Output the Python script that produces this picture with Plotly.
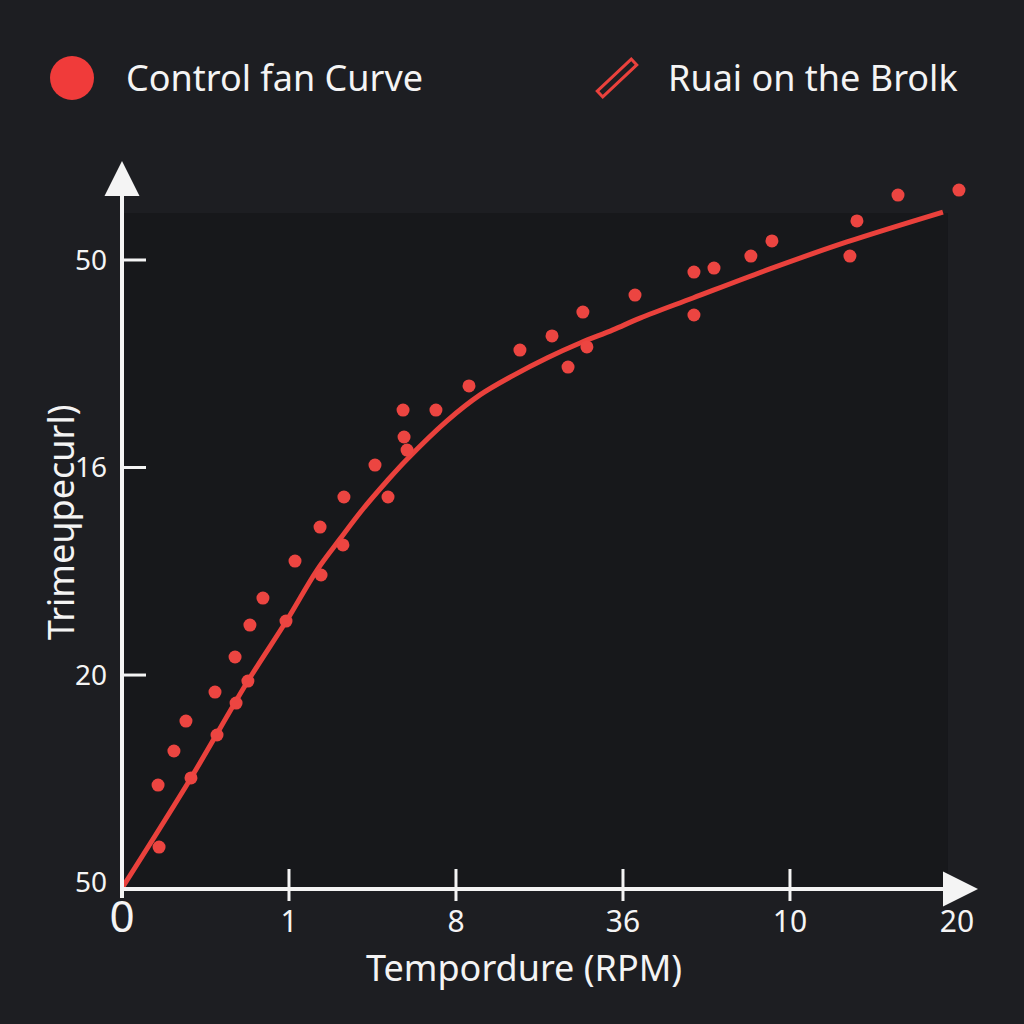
import math
import plotly.graph_objects as go

# ---- data ----
x_ticks = [0, 1, 2, 3, 4, 5]
x_tick_labels = ["0", "1", "8", "36", "10", "20"]
y_ticks = [0, 1, 2, 3]
y_tick_labels = ["50", "20", "16", "50"]

point_x = [0.216, 0.222, 0.311, 0.383, 0.413, 0.557, 0.569, 0.677, 0.683, 0.754,
           0.766, 0.844, 0.982, 1.036, 1.192, 1.186, 1.323, 1.329, 1.515, 1.593,
           1.683, 1.689, 1.707, 1.880, 2.078, 2.383, 2.575, 2.671, 2.760, 2.784,
           3.072, 3.425, 3.425, 3.545, 3.766, 3.892, 4.359, 4.401, 4.647, 5.012]
point_y = [0.470, 0.171, 0.634, 0.778, 0.504, 0.918, 0.711, 1.087, 0.865, 0.971,
           1.241, 1.371, 1.260, 1.549, 1.482, 1.713, 1.627, 1.858, 2.012, 1.858,
           2.277, 2.147, 2.084, 2.277, 2.393, 2.566, 2.634, 2.484, 2.749, 2.581,
           2.831, 2.942, 2.735, 2.961, 3.019, 3.092, 3.019, 3.188, 3.313, 3.337]

curve_x = [0.0, 0.413, 0.754, 0.988, 1.168, 1.305, 1.443, 1.587, 1.707, 1.946,
           2.144, 2.341, 2.545, 2.743, 2.940, 3.102, 3.419, 3.880, 4.341, 4.916]
curve_y = [-0.027, 0.504, 0.971, 1.265, 1.506, 1.655, 1.800, 1.935, 2.040, 2.225,
           2.350, 2.443, 2.528, 2.600, 2.663, 2.720, 2.817, 2.957, 3.087, 3.231]

legend_labels = ["Control fan Curve", "Ruai on the Brolk"]
x_title = "Tempordure (RPM)"
y_title = "Trimeɥpecurl)"

# ---- layout geometry ----
W, H = 1024, 1024
ML, MR, MT, MB = 122, 46, 161, 135
X_RANGE = [0, 5.126]
Y_RANGE = [-0.031, 3.477]
PLOT_W = W - ML - MR
PLOT_H = H - MT - MB


def px2paper(px, py):
    return (px - ML) / PLOT_W, (H - MB - py) / PLOT_H


FONT = "Noto Sans, Open Sans, sans-serif"
RED = "#ea413c"
WHITE = "#f4f4f4"
BG = "#1d1e22"
PLOT_BG = "#17181b"

fig = go.Figure()
fig.add_trace(go.Scatter(
    x=curve_x, y=curve_y, mode="lines",
    line=dict(color=RED, width=5, shape="spline", smoothing=1.0),
    cliponaxis=False, showlegend=False, hoverinfo="skip"))
fig.add_trace(go.Scatter(
    x=point_x, y=point_y, mode="markers",
    marker=dict(color="#ec4541", size=13),
    cliponaxis=False, showlegend=False))

shapes = []
# darker plot panel
shapes.append(dict(type="rect", xref="x", yref="y", x0=0, x1=4.946,
                   y0=Y_RANGE[0], y1=3.227, fillcolor=PLOT_BG,
                   line=dict(width=0), layer="below"))
# x tick marks crossing the axis (none at origin or under the arrow head)
for t in x_ticks[1:-1]:
    shapes.append(dict(type="line", xref="x", x0=t, x1=t,
                       yref="paper", ysizemode="pixel", yanchor=0,
                       y0=-12, y1=20, line=dict(color=WHITE, width=3)))
# y tick marks pointing into the plot
for t in y_ticks[1:]:
    shapes.append(dict(type="line", yref="y", y0=t, y1=t,
                       xref="paper", xsizemode="pixel", xanchor=0,
                       x0=0, x1=24, line=dict(color=WHITE, width=3)))
# legend icons
cx, cy = px2paper(72, 78)
rx = 22 / PLOT_W
ry = 22 / PLOT_H
shapes.append(dict(type="circle", xref="paper", yref="paper",
                   x0=cx - rx, x1=cx + rx, y0=cy - ry, y1=cy + ry,
                   fillcolor="#f03b3a", line=dict(width=0)))
ax0, ay0, ax1, ay1 = 600, 94, 634, 62
L = math.hypot(ax1 - ax0, ay1 - ay0)
nx, ny = -(ay1 - ay0) / L, (ax1 - ax0) / L
hw = 4
corners = [(ax0 + hw * nx, ay0 + hw * ny), (ax1 + hw * nx, ay1 + hw * ny),
           (ax1 - hw * nx, ay1 - hw * ny), (ax0 - hw * nx, ay0 - hw * ny)]
pc = [px2paper(a, b) for a, b in corners]
path = "M " + " L ".join(f"{a:.5f},{b:.5f}" for a, b in pc) + " Z"
shapes.append(dict(type="path", xref="paper", yref="paper", path=path,
                   fillcolor=BG, line=dict(color=RED, width=3)))

annotations = []
# axes with arrow heads
annotations.append(dict(x=X_RANGE[1], y=Y_RANGE[0], ax=0, ay=Y_RANGE[0],
                        xref="x", yref="y", axref="x", ayref="y", text="",
                        showarrow=True, arrowhead=2, arrowsize=1.75,
                        arrowwidth=4, arrowcolor=WHITE, standoff=0))
annotations.append(dict(x=0, y=Y_RANGE[1], ax=0, ay=Y_RANGE[0] - 0.05,
                        xref="x", yref="y", axref="x", ayref="y", text="",
                        showarrow=True, arrowhead=2, arrowsize=1.75,
                        arrowwidth=4, arrowcolor=WHITE, standoff=0))
# legend texts
lx, ly = px2paper(124, 78)
annotations.append(dict(x=lx, y=ly, xref="paper", yref="paper",
                        text=legend_labels[0], showarrow=False,
                        xanchor="left", yanchor="middle",
                        font=dict(family=FONT, size=36, color=WHITE)))
lx, ly = px2paper(666, 78)
annotations.append(dict(x=lx, y=ly, xref="paper", yref="paper",
                        text=legend_labels[1], showarrow=False,
                        xanchor="left", yanchor="middle",
                        font=dict(family=FONT, size=36, color=WHITE)))
# axis titles
tx, ty = px2paper(524, 967)
annotations.append(dict(x=tx, y=ty, xref="paper", yref="paper",
                        text=x_title, showarrow=False,
                        xanchor="center", yanchor="middle",
                        font=dict(family=FONT, size=36, color=WHITE)))
tx, ty = px2paper(60, 522)
annotations.append(dict(x=tx, y=ty, xref="paper", yref="paper",
                        text=y_title, showarrow=False, textangle=-90,
                        xanchor="center", yanchor="middle",
                        font=dict(family=FONT, size=36, color=WHITE)))

x_text = [f'<span style="font-size:44px">{x_tick_labels[0]}</span>'] + x_tick_labels[1:]

fig.update_layout(
    width=W, height=H,
    margin=dict(l=ML, r=MR, t=MT, b=MB, pad=0),
    paper_bgcolor=BG, plot_bgcolor=BG,
    showlegend=False,
    font=dict(family=FONT, color=WHITE),
    xaxis=dict(range=X_RANGE, showgrid=False, zeroline=False, showline=False,
               tickvals=x_ticks, ticktext=x_text, ticks="",
               ticklabelstandoff=12,
               tickfont=dict(family=FONT, size=30, color=WHITE)),
    yaxis=dict(range=Y_RANGE, showgrid=False, zeroline=False, showline=False,
               tickvals=y_ticks, ticktext=y_tick_labels, ticks="",
               ticklabelstandoff=14,
               tickfont=dict(family=FONT, size=28, color=WHITE)),
    shapes=shapes,
    annotations=annotations,
)

fig.write_html(
    "out.html",
    config={"displayModeBar": False},
    post_script="document.body.style.margin='0';document.body.style.background='#1d1e22';",
)
